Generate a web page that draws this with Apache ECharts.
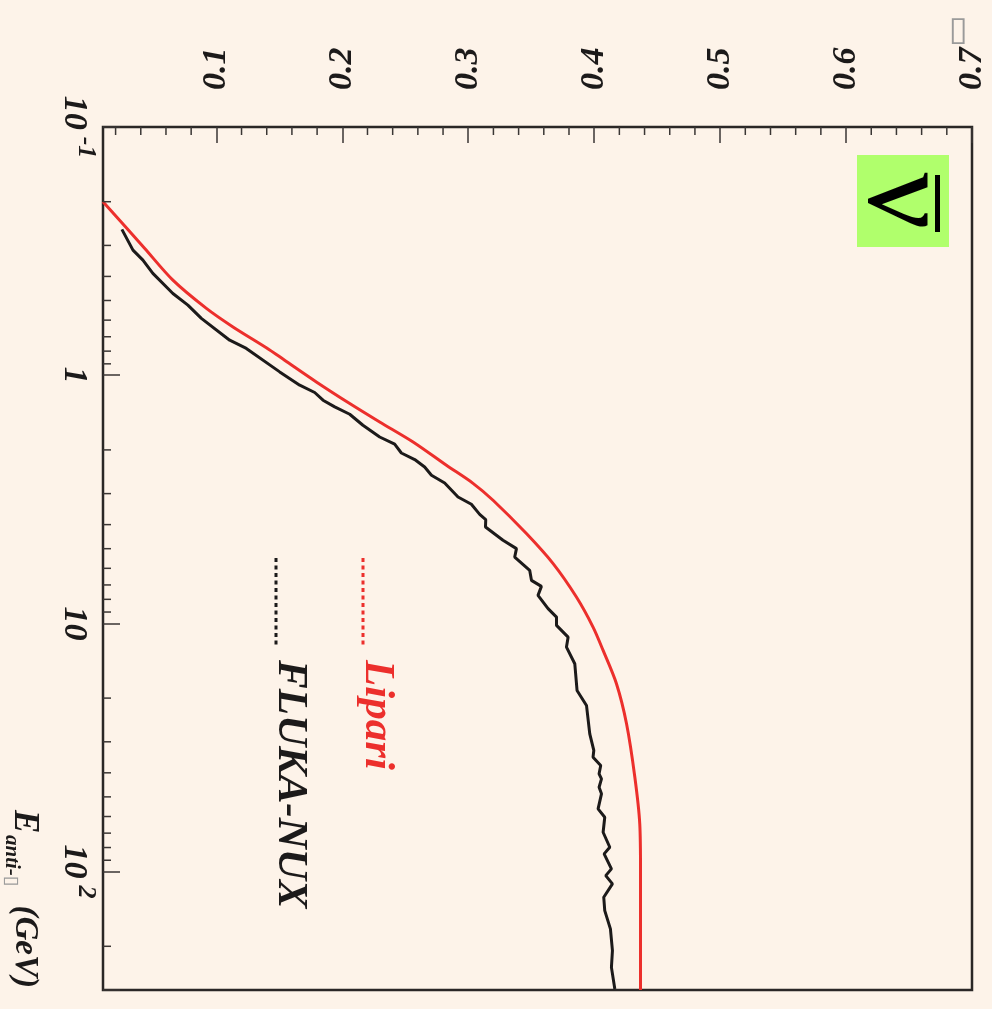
<!DOCTYPE html>
<html><head><meta charset="utf-8">
<script src="https://cdn.jsdelivr.net/npm/echarts@6/dist/echarts.min.js"></script>
<style>html,body{margin:0;padding:0;background:#fdf3e9;}#c{width:992px;height:1009px;}</style>
</head><body><div id="c"></div>
<script>
// ---- data (value on horizontal axis, energy on vertical log axis) ----
const liparisE = [0.2, 0.308, 0.414, 0.538, 0.639, 0.775, 0.870, 1.064, 1.30, 1.543, 1.858, 2.307, 2.727, 3.19, 4.347, 5.745, 7.834, 10.35, 12.85, 17.51, 25.38, 41.67, 64.2, 99, 300];
const liparisV = [0.01, 0.043, 0.0655, 0.0921, 0.1132, 0.1397, 0.1542, 0.1794, 0.2059, 0.2297, 0.2562, 0.2827, 0.3038, 0.3197, 0.3462, 0.3674, 0.3859, 0.3991, 0.4071, 0.4177, 0.4257, 0.4323, 0.4362, 0.4368, 0.4368];
const flukaE = [0.2585, 0.3133, 0.3438, 0.389, 0.4685, 0.5222, 0.5906, 0.7227, 0.7803, 0.9698, 1.097, 1.174, 1.261, 1.342, 1.437, 1.591, 1.774, 1.897, 2.058, 2.187, 2.344, 2.531, 2.719, 3.095, 3.313, 3.636, 3.819, 4.090, 4.627, 4.998, 5.404, 6.113, 6.709, 7.093, 7.713, 8.724, 9.432, 10.19, 11.36, 12.46, 14.54, 18.63, 21.41, 27.86, 32.51, 34.60, 37.37, 40.36, 42.28, 45.72, 48.62, 55.87, 60.40, 69.42, 79.80, 84.85, 97.5, 103.8, 112.1, 126.9, 143.6, 170.2, 208.2, 243.2, 297.2];
const flukaV = [0.0250, 0.0338, 0.0417, 0.0496, 0.0655, 0.0774, 0.0881, 0.1106, 0.1238, 0.1503, 0.1662, 0.1781, 0.1847, 0.1940, 0.2059, 0.2164, 0.2297, 0.2416, 0.2469, 0.2575, 0.2654, 0.2708, 0.2813, 0.2919, 0.3025, 0.3091, 0.3139, 0.3137, 0.3276, 0.3383, 0.3369, 0.3488, 0.3502, 0.3581, 0.3554, 0.3634, 0.3701, 0.3701, 0.3793, 0.3780, 0.3846, 0.3864, 0.3939, 0.3965, 0.3997, 0.3991, 0.4052, 0.4039, 0.4058, 0.4039, 0.4058, 0.4031, 0.4084, 0.4071, 0.4124, 0.4079, 0.4137, 0.4092, 0.4145, 0.4076, 0.4084, 0.4129, 0.4145, 0.4137, 0.4164];
const seriesNames = ['Lipari', 'FLUKA-NUX'];
const valueMin = 0.01, valueMax = 0.7;
const energyMin = 0.1, energyMax = 300;
const valueTicks = [0.1, 0.2, 0.3, 0.4, 0.5, 0.6, 0.7];
const valueMinorTicks = [0.02,0.04,0.06,0.08,0.12,0.14,0.16,0.18,0.22,0.24,0.26,0.28,0.32,0.34,0.36,0.38,0.42,0.44,0.46,0.48,0.52,0.54,0.56,0.58,0.62,0.64,0.66,0.68];
const energyTicks = [0.1, 1, 10, 100];
const energyTickText = [['10','-1'], ['1',''], ['10',''], ['10','2']];
const energyMinorTicks = [0.2,0.3,0.4,0.5,0.6,0.7,0.8,0.9,2,3,4,5,6,7,8,9,20,30,40,50,60,70,80,90,200];
const axisTitleMain = 'E', axisTitleSub = 'anti-', axisTitleMissing = '\u25AF', axisTitleUnit = '(GeV)';
const cornerMark = '\u25AF';
const badgeText = '\u03BD';

const SERIF = '"Liberation Serif","Times New Roman",serif';
const RED = '#ec2f2c', BLACK = '#1c1a1a', TICK = '#3a3634';

const chart = echarts.init(document.getElementById('c'));
function eLabel(v) {
  for (let i = 0; i < energyTicks.length; i++) {
    if (Math.abs(Math.log10(v) - Math.log10(energyTicks[i])) < 1e-6) {
      const t = energyTickText[i];
      return '{b|' + t[0] + '}' + (t[1] ? '{s|' + t[1] + '}' : '');
    }
  }
  return '';
}
const tickSeries = (vals, horizontal) => ({
  type: 'custom', silent: true, clip: false, z: 5,
  data: vals.map(v => horizontal ? [v, energyMin] : [valueMin, v]),
  renderItem: (params, api) => {
    const p = api.coord([api.value(0), api.value(1)]);
    const shape = horizontal ? {x1: p[0], y1: p[1], x2: p[0], y2: p[1] + 8} : {x1: p[0], y1: p[1], x2: p[0] + 8, y2: p[1]};
    return {type: 'line', shape, style: {stroke: TICK, lineWidth: 1.5}};
  }
});
const lblFont = {fontFamily: SERIF, fontWeight: 'bold', fontStyle: 'italic', color: BLACK};
const rot = -Math.PI / 2;
chart.setOption({
  animation: false,
  backgroundColor: '#fdf3e9',
  grid: {left: 103, top: 127, right: 20, bottom: 19, show: true, borderColor: '#2a2726', borderWidth: 2.5, containLabel: false},
  xAxis: {
    type: 'value', position: 'top', min: valueMin, max: valueMax,
    axisLine: {show: false}, splitLine: {show: false},
    axisTick: {show: true, inside: true, length: 16, customValues: valueTicks, lineStyle: {color: TICK, width: 1.5}},
    axisLabel: Object.assign({customValues: valueTicks, rotate: -90, margin: 37, fontSize: 34, formatter: v => v.toFixed(1)}, lblFont)
  },
  yAxis: {
    type: 'log', logBase: 10, inverse: true, min: energyMin, max: energyMax, splitNumber: 3,
    axisLine: {show: false}, splitLine: {show: false},
    axisTick: {show: true, inside: true, length: 17, lineStyle: {color: TICK, width: 1.5}},
    axisLabel: {
      rotate: -90, margin: 4, formatter: eLabel,
      rich: {
        b: Object.assign({fontSize: 34, lineHeight: 34, padding: [16, 0, 0, 0]}, lblFont),
        s: Object.assign({fontSize: 26, lineHeight: 26, padding: [0, 0, 24, 7], verticalAlign: 'top'}, lblFont)
      }
    }
  },
  series: [
    {name: seriesNames[0], type: 'line', showSymbol: false, smooth: 0.3, data: liparisV.map((v, i) => [v, liparisE[i]]), lineStyle: {color: RED, width: 3}, itemStyle: {color: RED}, z: 3},
    {name: seriesNames[1], type: 'line', showSymbol: false, data: flukaV.map((v, i) => [v, flukaE[i]]), lineStyle: {color: BLACK, width: 3}, itemStyle: {color: BLACK}, z: 4},
    tickSeries(valueMinorTicks, true),
    tickSeries(energyMinorTicks, false)
  ],
  graphic: [
    // badge
    {type: 'rect', left: 857, top: 155, shape: {width: 92, height: 92}, style: {fill: '#b0ff6c'}, z: 10},
    {type: 'text', x: 902, y: 201, rotation: rot, z: 11, style: {text: badgeText, font: 'normal 126px ' + SERIF, fill: '#000', align: 'center', verticalAlign: 'middle'}},
    {type: 'rect', left: 935, top: 175, shape: {width: 5, height: 57}, style: {fill: '#000'}, z: 11},
    // legend
    {type: 'line', shape: {x1: 363, y1: 558, x2: 363, y2: 645}, style: {stroke: RED, lineWidth: 3, lineDash: [4, 3.5]}, z: 10},
    {type: 'line', shape: {x1: 276, y1: 558, x2: 276, y2: 645}, style: {stroke: BLACK, lineWidth: 3, lineDash: [4, 3.5]}, z: 10},
    {type: 'text', x: 377, y: 660, rotation: rot, z: 10, style: {text: seriesNames[0], font: 'italic bold 43px ' + SERIF, fill: RED, align: 'left', verticalAlign: 'middle'}},
    {type: 'text', x: 290, y: 660, rotation: rot, z: 10, style: {text: seriesNames[1], font: 'italic bold 43px ' + SERIF, fill: BLACK, align: 'left', verticalAlign: 'middle'}},
    // axis title
    {type: 'text', x: 24, y: 810, rotation: rot, z: 10, style: {text: axisTitleMain, font: 'italic bold 35px ' + SERIF, fill: BLACK, align: 'left', verticalAlign: 'middle'}},
    {type: 'text', x: 11, y: 835, rotation: rot, z: 10, style: {
      text: '{a|' + axisTitleSub + '}{t|' + axisTitleMissing + '}', align: 'left', verticalAlign: 'middle',
      rich: {
        a: {fontFamily: SERIF, fontWeight: 'bold', fontStyle: 'italic', fontSize: 21, lineHeight: 22, fill: BLACK},
        t: {fontFamily: '"DejaVu Sans"', fontSize: 19, lineHeight: 22, fill: '#9a9a9a'}
      }
    }},
    {type: 'text', x: 24.5, y: 988, rotation: rot, z: 10, style: {text: axisTitleUnit, font: 'italic bold 33px ' + SERIF, fill: BLACK, align: 'right', verticalAlign: 'middle'}},
    {type: 'text', x: 958, y: 31, z: 10, style: {text: cornerMark, font: 'normal 34px "DejaVu Sans"', fill: '#9a9a9a', align: 'center', verticalAlign: 'middle'}}
  ]
});
</script></body></html>
